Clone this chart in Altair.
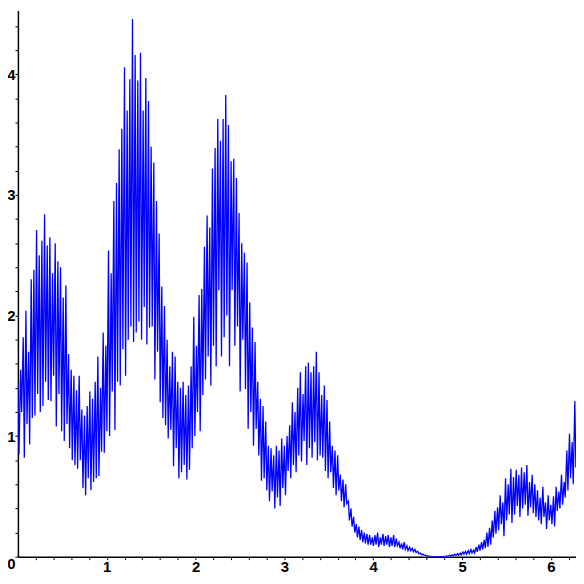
import altair as alt
import pandas as pd

# Oscillating curve: alternating crest / trough values.
x_step = 0.03  # spacing of crests along x (troughs sit between them)

upper = [
    1.45, 1.55, 1.82, 2.04, 1.70, 2.30, 2.38, 2.71, 2.50, 2.62,
    2.84, 2.58, 2.65, 2.35, 2.60, 2.45, 2.40, 2.15, 2.25, 1.68,
    1.55, 1.50, 1.38, 1.50, 1.22, 1.17, 1.25, 1.37, 1.31, 1.45,
    1.66, 1.40, 1.86, 1.75, 2.54, 2.35, 2.95, 3.10, 3.38, 3.55,
    4.06, 3.70, 3.96, 4.46, 4.16, 3.95, 4.18, 3.70, 3.97, 3.78,
    3.40, 3.27, 2.95, 2.68, 2.24, 2.08, 1.80, 1.58, 1.70, 1.66,
    1.45, 1.40, 1.45, 1.34, 1.42, 1.58, 1.99, 1.75, 2.17, 2.22,
    2.57, 2.83, 2.73, 3.22, 3.39, 3.63, 3.45, 3.63, 3.83, 3.58,
    3.28, 3.30, 3.14, 2.85, 2.60, 2.52, 2.44, 2.11, 1.90, 1.78,
    1.45, 1.31, 1.25, 1.12, 0.92, 0.90, 0.84, 0.92, 0.88, 0.98,
    0.92, 1.00, 1.09, 1.28, 1.20, 1.40, 1.53, 1.35, 1.58, 1.61,
    1.53, 1.58, 1.70, 1.53, 1.34, 1.42, 1.30, 1.12, 0.92, 0.88,
    0.84, 0.68, 0.64, 0.60, 0.46, 0.40, 0.33, 0.27, 0.25, 0.22,
    0.20, 0.19, 0.18, 0.16, 0.18, 0.20, 0.16, 0.19, 0.17, 0.18,
    0.16, 0.18, 0.15, 0.12, 0.11, 0.12, 0.09, 0.08, 0.07, 0.06,
    0.045, 0.03, 0.02, 0.012, 0.006, 0.002, 0.0, 0.0, 0.0, 0.001,
    0.003, 0.006, 0.01, 0.015, 0.02, 0.025, 0.03, 0.04, 0.045, 0.05,
    0.06, 0.055, 0.08, 0.10, 0.12, 0.14, 0.20, 0.24, 0.30, 0.38,
    0.41, 0.51, 0.45, 0.65, 0.60, 0.73, 0.66, 0.72, 0.68, 0.74,
    0.70, 0.76, 0.62, 0.68, 0.60, 0.55, 0.49, 0.58, 0.45, 0.51,
    0.43, 0.50, 0.58, 0.54, 0.68, 0.62, 0.88, 1.02, 0.95, 1.29,
]

lower = [
    0.85, 1.20, 0.82, 1.10, 0.93, 1.15, 1.17, 1.35, 1.20, 1.25,
    1.45, 1.30, 1.29, 1.50, 1.08, 1.35, 1.04, 0.96, 1.10, 0.90,
    0.80, 0.76, 0.73, 0.80, 0.57, 0.51, 0.65, 0.55, 0.62, 0.65,
    0.67, 0.87, 0.86, 1.04, 1.00, 1.37, 1.05, 1.45, 1.42, 1.72,
    1.50, 1.80, 1.91, 1.78, 1.86, 1.95, 1.80, 2.07, 1.76, 1.90,
    1.91, 1.47, 1.70, 1.28, 1.15, 1.09, 0.98, 1.05, 0.75, 0.90,
    0.65, 0.70, 0.76, 0.64, 0.72, 0.90, 1.00, 1.20, 1.04, 1.34,
    1.47, 1.66, 1.42, 1.75, 1.58, 2.21, 1.66, 1.82, 2.00, 1.58,
    2.21, 1.75, 1.91, 1.37, 1.80, 1.39, 1.06, 1.20, 0.92, 1.06,
    0.84, 0.63, 0.65, 0.55, 0.46, 0.54, 0.40, 0.49, 0.42, 0.57,
    0.51, 0.71, 0.65, 0.76, 0.70, 0.84, 0.79, 0.96, 0.76, 0.90,
    0.82, 0.95, 0.80, 0.84, 0.82, 0.71, 0.65, 0.70, 0.57, 0.51,
    0.55, 0.46, 0.41, 0.44, 0.30, 0.25, 0.20, 0.16, 0.14, 0.12,
    0.11, 0.10, 0.10, 0.09, 0.10, 0.08, 0.10, 0.09, 0.10, 0.08,
    0.09, 0.08, 0.09, 0.07, 0.06, 0.06, 0.05, 0.05, 0.04, 0.035,
    0.025, 0.018, 0.012, 0.007, 0.003, 0.001, 0.0, 0.0, 0.0, 0.0,
    0.001, 0.003, 0.005, 0.008, 0.01, 0.012, 0.015, 0.02, 0.022, 0.025,
    0.03, 0.03, 0.04, 0.05, 0.06, 0.07, 0.08, 0.10, 0.16, 0.19,
    0.22, 0.27, 0.17, 0.30, 0.35, 0.28, 0.35, 0.42, 0.33, 0.40,
    0.43, 0.34, 0.41, 0.36, 0.33, 0.30, 0.27, 0.33, 0.23, 0.30,
    0.27, 0.25, 0.38, 0.40, 0.43, 0.49, 0.55, 0.65, 0.60, 0.74,
]

x_ticks = [0.2, 0.4, 0.6, 0.8, 1.0, 1.2, 1.4, 1.6, 1.8, 2.0, 2.2, 2.4, 2.6, 2.8,
           3.0, 3.2, 3.4, 3.6, 3.8, 4.0, 4.2, 4.4, 4.6, 4.8, 5.0, 5.2, 5.4, 5.6,
           5.8, 6.0, 6.2]
y_ticks = [0.0, 0.2, 0.4, 0.6, 0.8, 1.0, 1.2, 1.4, 1.6, 1.8, 2.0, 2.2, 2.4, 2.6,
           2.8, 3.0, 3.2, 3.4, 3.6, 3.8, 4.0, 4.2, 4.4]

rows = []
for i, (u, l) in enumerate(zip(upper, lower)):
    rows.append({"i": 2 * i, "x": i * x_step, "y": u})
    rows.append({"i": 2 * i + 1, "x": i * x_step + 0.012, "y": l})
df = pd.DataFrame(rows)

int_label = "abs(datum.value - round(datum.value)) < 0.001 ? format(datum.value, 'd') : ''"

chart = (
    alt.Chart(df)
    .mark_line(color="#0000ff", strokeWidth=1.3, clip=True)
    .encode(
        x=alt.X(
            "x:Q",
            scale=alt.Scale(domain=[0, 6.283185], nice=False, zero=False),
            axis=alt.Axis(
                values=x_ticks, labelExpr=int_label, title=None,
                labelFlush=False, labelOverlap=False, labelPadding=0,
            ),
        ),
        y=alt.Y(
            "y:Q",
            scale=alt.Scale(domain=[0, 4.53], nice=False),
            axis=alt.Axis(
                values=y_ticks, labelExpr=int_label, title=None,
                labelFlush=False, labelOverlap=False, labelPadding=0,
                labelBaseline=alt.condition("datum.value == 0", alt.value("top"), alt.value("middle")),
            ),
        ),
        order="i:Q",
    )
    .properties(
        width=563,
        height=551,
        autosize=alt.AutoSizeParams(type="none"),
        padding={"left": 10, "top": 0, "right": 0, "bottom": 18},
    )
    .configure_view(stroke=None)
    .configure_axis(
        grid=False,
        domainColor="black",
        domainWidth=1.5,
        tickColor="black",
        tickSize=3,
        tickWidth=1,
        labelColor="black",
        labelFont="Liberation Sans",
        labelFontWeight="bold",
        labelFontSize=15,
    )
)

chart.save("out.html", embed_options={"renderer": "svg", "actions": False})
